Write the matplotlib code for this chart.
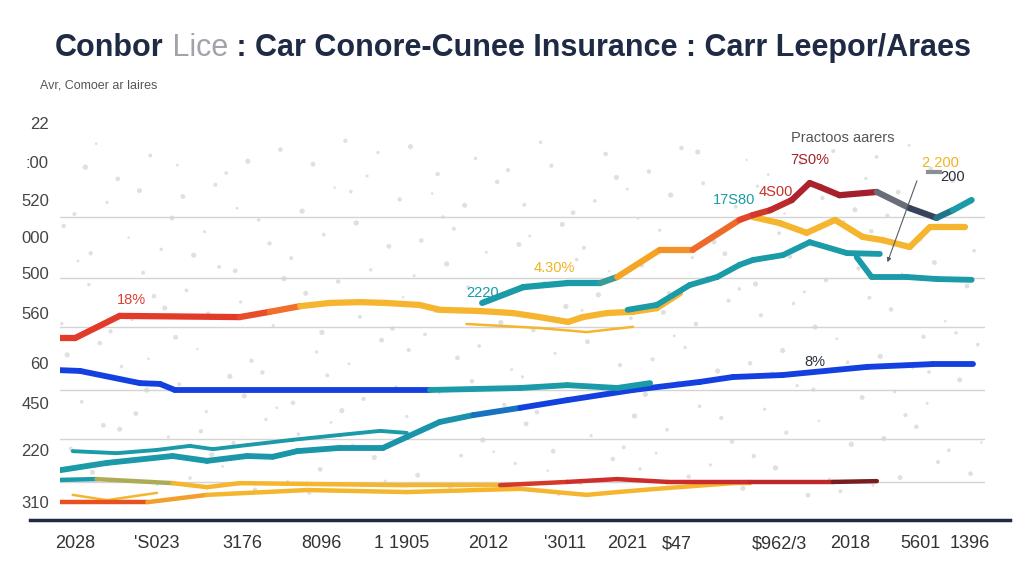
import numpy as np
import matplotlib
matplotlib.use("Agg")
import matplotlib.pyplot as plt
from matplotlib.collections import LineCollection
from matplotlib.colors import to_rgb

# ------------------
# data
# ------------------
x_ticks = [0, 1.10, 2.25, 3.31, 4.38, 5.54, 6.57, 7.40, 8.07, 9.45, 10.39, 11.33, 12.0]
x_labels = ["2028", "'S023", "3176", "8096", "1 1905", "2012", "'3011", "2021",
            "$47", "$962/3", "2018", "5601", "1396"]
y_ticks = [98.0, 88.4, 79.0, 69.9, 61.0, 51.1, 38.8, 28.9, 17.3, 4.4]
y_labels = ["22", ":00", "520", "000", "500", "560", "60", "450", "220", "310"]
grid_vals = [98.0, 74.8, 59.8, 47.7, 32.1, 20.0, 9.4]

# top red -> yellow line
a_x = [-0.2, 0, 0.6, 2.21, 2.61, 3.02, 3.42, 3.82, 4.16, 4.62, 4.89, 5.43, 5.87, 6.23, 6.61, 6.81, 7.13, 7.48, 7.8, 8.11]
a_y = [44.9, 44.9, 50.4, 50.1, 51.4, 52.8, 53.6, 53.8, 53.6, 53.1, 51.9, 51.6, 51.1, 50.1, 48.9, 50.1, 51.1, 51.4, 52.3, 56.0]
# thin yellow under it
b_x = [5.25, 6.23, 6.86, 7.48]
b_y = [48.4, 47.4, 46.4, 47.7]
# teal -> orange -> red -> dark -> teal peak line
c_x = [5.46, 6.01, 6.60, 7.04, 7.27, 7.84, 8.28, 8.91, 9.09, 9.32, 9.61, 9.85, 9.99, 10.25, 10.75, 11.19, 11.55, 11.77, 12.02]
c_y = [53.6, 57.5, 58.5, 58.5, 60.0, 66.7, 66.7, 74.1, 75.3, 76.5, 79.0, 83.2, 82.2, 80.2, 81.0, 77.0, 74.6, 76.5, 79.0]
# yellow branch on the right
d_x = [9.09, 9.45, 9.81, 10.19, 10.56, 10.83, 11.19, 11.46, 11.93]
d_y = [74.8, 73.3, 70.9, 74.1, 69.9, 69.1, 67.4, 72.3, 72.3]
# teal middle
e_x = [7.41, 7.80, 8.24, 8.61, 8.91, 9.09, 9.49, 9.85, 10.35, 10.79]
e_y = [51.9, 53.1, 58.0, 60.0, 63.0, 64.2, 65.4, 68.6, 65.9, 65.7]
f_x = [10.48, 10.68, 11.15, 11.55, 12.02]
f_y = [64.9, 60.0, 60.0, 59.5, 59.3]
# blue flat line
g_x = [-0.2, 0.07, 0.87, 1.14, 1.34, 4.76, 5.97, 6.60, 7.27, 7.71]
g_y = [37.0, 36.8, 33.8, 33.6, 32.1, 32.1, 32.6, 33.3, 32.6, 33.8]
# teal -> blue rising line
h_x = [-0.2, 0.43, 1.31, 1.77, 2.31, 2.65, 2.98, 3.55, 4.13, 4.45, 4.89, 5.34, 5.97, 6.60, 7.48, 8.38, 8.82, 9.49, 10.62, 11.50, 12.04]
h_y = [12.3, 14.1, 15.8, 14.6, 15.8, 15.6, 17.0, 17.8, 17.8, 20.5, 24.2, 25.9, 27.7, 29.6, 32.1, 34.1, 35.3, 35.8, 37.8, 38.5, 38.5]
# teal short
i_x = [-0.03, 0.56, 1.10, 1.54, 1.85, 2.31, 2.92, 3.55, 4.09, 4.45]
i_y = [17.0, 16.5, 17.3, 18.3, 17.5, 18.5, 19.8, 21.0, 22.0, 21.5]
# low teal -> yellow -> red
j_x = [-0.2, 0.29, 1.31, 1.77, 2.21, 3.11, 4.45, 5.70, 6.60, 7.27, 7.94, 9.05, 10.16, 10.75]
j_y = [9.9, 10.1, 9.1, 8.1, 9.1, 8.9, 8.6, 8.6, 9.4, 10.1, 9.4, 9.4, 9.4, 9.6]
# bottom red -> yellow
k_x = [-0.2, 0.97, 1.77, 3.11, 4.45, 5.97, 6.86, 7.27, 7.94, 8.82, 9.05]
k_y = [4.4, 4.4, 6.2, 7.4, 6.9, 7.7, 6.2, 6.9, 7.9, 9.1, 9.1]
l_x = [-0.03, 0.43, 1.10]
l_y = [6.2, 4.9, 6.7]

RED = "#e23b2a"
ORANGE = "#f26b2a"
YELLOW = "#f5b52e"
TEAL = "#1b9aa8"
BLUE = "#1440e0"
NAVY = "#1f2a44"
FONT = ["Liberation Sans", "DejaVu Sans"]


def grad_line(ax, x, y, stops, lw):
    # colour each segment by its midpoint along the stops
    xs, ys = np.asarray(x, float), np.asarray(y, float)
    pts = np.column_stack([xs, ys]).reshape(-1, 1, 2)
    segs = np.concatenate([pts[:-1], pts[1:]], axis=1)
    mids = (xs[:-1] + xs[1:]) / 2
    pos = [s[0] for s in stops]
    rgb = np.array([to_rgb(s[1]) for s in stops])
    cols = np.column_stack([np.interp(mids, pos, rgb[:, k]) for k in range(3)])
    lc = LineCollection(segs, colors=cols, linewidths=lw, capstyle="round",
                        joinstyle="round", zorder=3)
    ax.add_collection(lc)


fig = plt.figure(figsize=(10.24, 5.85), dpi=100)
ax = fig.add_axes([60 / 1024, 1 - 520 / 585, 925 / 1024, 405 / 585])

# faint dot texture (halton sequence, decoration only)
def halton(n, base):
    out = []
    for i in range(1, n + 1):
        f, r, k = 1.0, 0.0, i
        while k > 0:
            f /= base
            r += f * (k % base)
            k //= base
        out.append(r)
    return np.array(out)

hx = halton(280, 2) * 12.4 - 0.2
hy = halton(280, 3) * 88 + 6
hs = 3 + 12 * halton(280, 5)
ax.scatter(hx, hy, s=hs, color="#cccccc", alpha=0.6, lw=0, zorder=1)

# lines
grad_line(ax, l_x, l_y, [(0, YELLOW), (2, YELLOW)], 1.8)
grad_line(ax, k_x, k_y, [(-0.2, "#e8501f"), (0.9, "#e8501f"), (1.5, YELLOW), (10, YELLOW)], 3.2)
grad_line(ax, j_x, j_y, [(-0.2, TEAL), (0.4, TEAL), (1.0, YELLOW), (5.5, YELLOW),
                         (6.2, "#d1302a"), (9.5, "#c62a2a"), (10.8, "#5a1a1a")], 3.2)
grad_line(ax, i_x, i_y, [(0, TEAL), (5, TEAL)], 2.8)
grad_line(ax, h_x, h_y, [(-0.2, TEAL), (5.3, "#1a93aa"), (6.2, BLUE), (12.1, BLUE)], 4.2)
grad_line(ax, g_x, g_y, [(-0.2, BLUE), (3.8, BLUE), (5.2, TEAL), (8, TEAL)], 4.2)
grad_line(ax, b_x, b_y, [(5, YELLOW), (8, YELLOW)], 1.8)
grad_line(ax, a_x, a_y, [(-0.2, RED), (2.2, RED), (2.8, ORANGE), (3.2, YELLOW), (9, YELLOW)], 4.5)
grad_line(ax, e_x, e_y, [(7, TEAL), (11, TEAL)], 4.2)
grad_line(ax, f_x, f_y, [(10, TEAL), (12.1, TEAL)], 4.2)
grad_line(ax, d_x, d_y, [(9, YELLOW), (12, YELLOW)], 4.5)
grad_line(ax, c_x, c_y, [(5, TEAL), (7.1, TEAL), (7.5, "#f5a623"), (8.3, "#f08a2a"),
                         (8.9, "#ea4a2a"), (9.6, "#b02430"), (10.75, "#9e1f2b"),
                         (10.95, "#6a6f7a"), (11.5, "#263650"), (11.75, TEAL), (12.1, TEAL)], 4.5)

# small marker + arrow on the right
ax.plot([11.43, 11.60], [85.9, 85.9], color="#8a8f96", lw=3, zorder=4)
ax.annotate("", xy=(10.88, 63.0), xytext=(11.30, 84.4),
            arrowprops=dict(arrowstyle="-|>", color="#555b66", lw=0.8, mutation_scale=6), zorder=4)

# annotations
ann = [("18%", 0.76, 54.3, "#d9412f", "center"),
       ("2220", 5.46, 56.0, TEAL, "center"),
       ("4.30%", 6.43, 62.2, "#f0b21f", "center"),
       ("17S80", 9.12, 79.0, TEAL, "right"),
       ("4S00", 9.17, 80.9, "#c8302a", "left"),
       ("7S0%", 9.85, 88.9, "#a3202a", "center"),
       ("Practoos aarers", 10.29, 94.3, "#555555", "center"),
       ("2 200", 11.60, 88.1, "#f0b21f", "center"),
       ("200", 11.77, 84.7, "#2a2f3a", "center"),
       ("8%", 9.92, 39.0, "#2a2f3a", "center")]
for txt, tx, ty, col, ha in ann:
    ax.text(tx, ty, txt, color=col, fontsize=10.5, ha=ha, va="center", zorder=5,
            family=FONT)

# axes styling
ax.set_xlim(-0.2, 12.2)
ax.set_ylim(0, 100)
ax.set_xticks(x_ticks)
ax.set_xticklabels(x_labels, fontsize=13, color="#333333", family=FONT)
ax.set_yticks(y_ticks)
ax.set_yticklabels(y_labels, fontsize=12, color="#444444", family=FONT)
ax.set_yticks(grid_vals, minor=True)
ax.tick_params(axis="both", which="both", length=0)
ax.tick_params(axis="x", pad=11)
ax.tick_params(axis="y", pad=8)
ax.grid(True, axis="y", which="minor", color="#d4d4d4", lw=1, zorder=0)
ax.grid(False, axis="y", which="major")
for s in ax.spines.values():
    s.set_visible(False)
ax.axhline(0, xmin=-0.032, xmax=1.027, color=NAVY, lw=2.5, clip_on=False, zorder=2)

# title in pieces (middle word is grey)
t1 = fig.text(55 / 1024, 1 - 56 / 585, "Conbor", fontsize=22, fontweight="bold",
              color=NAVY, ha="left", va="baseline", family="Liberation Sans")
t2 = ax.annotate(" Lice", xy=(1, 0), xycoords=t1, fontsize=22, color="#a0a4aa",
                 ha="left", va="bottom", annotation_clip=False, family="Liberation Sans")
ax.annotate(" : Car Conore-Cunee Insurance : Carr Leepor/Araes", xy=(1, 0), xycoords=t2,
            fontsize=22, fontweight="bold", color=NAVY, ha="left", va="bottom",
            annotation_clip=False, family="Liberation Sans")

fig.text(40 / 1024, 1 - 85 / 585, "Avr, Comoer ar laires", fontsize=9,
         color="#555555", ha="left", va="center", family=FONT)

fig.savefig("out.png", dpi=100, facecolor="white")
